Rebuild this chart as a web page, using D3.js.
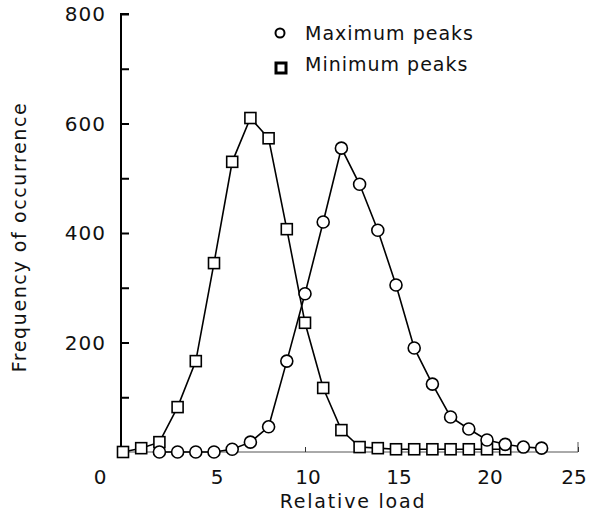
<!DOCTYPE html>
<html><head><meta charset="utf-8">
<script src="https://cdn.jsdelivr.net/npm/d3@7"></script>
<style>body{margin:0;background:#fff}svg{display:block}text{font-family:"DejaVu Sans",sans-serif;fill:#111}</style>
</head><body><svg id="c" width="591" height="520"></svg>
<script>
const maxX = [2,3,4,5,6,7,8,9,10,11,12,13,14,15,16,17,18,19,20,21,22,23];
const maxY = [0,0,0,0,5,18,46,166,289,420,555,489,405,305,190,124,64,42,22,14,9,7];
const minX = [0,1,2,3,4,5,6,7,8,9,10,11,12,13,14,15,16,17,18,19,20,21];
const minY = [0,7,18,82,166,345,530,610,573,407,236,117,40,9,7,5,5,5,5,5,5,5];
const xTicks = [0,5,10,15,20,25];
const yTicks = [0,200,400,600,800];
const yMinor = [100,300,500,700];
const xTitle = "Relative load";
const yTitle = "Frequency of occurrence";
const legend = ["Maximum peaks","Minimum peaks"];

const svg = d3.select("#c");
const x = d3.scaleLinear().domain([0,25]).range([123,578]);
const y = d3.scaleLinear().domain([0,800]).range([452,14]);

// y axis
const ya = svg.append("g").attr("transform","translate(121,0)")
  .call(d3.axisRight(y).tickValues(yTicks.concat(yMinor)).tickSize(8).tickFormat(""));
ya.select(".domain").attr("d",`M8,${y(800)}H0V${y(0)}`).attr("stroke","#000").attr("stroke-width",2);
ya.selectAll(".tick line").attr("stroke","#000").attr("stroke-width",2);
svg.append("g").selectAll("text").data(yTicks.filter(d=>d>0)).join("text")
  .attr("x",106).attr("y",d=>y(d)+7).attr("text-anchor","end")
  .style("font-size","20px").style("letter-spacing","1px").text(d=>d);

// x axis
const xa = svg.append("g").attr("transform",`translate(0,${y(0)})`)
  .call(d3.axisTop(x).tickValues(xTicks.slice(1)).tickSize(5).tickFormat(""));
xa.select(".domain").attr("d",`M${x(0)},0H${x(25)}V-10`).attr("stroke","#555").attr("stroke-width",1);
xa.selectAll(".tick line").attr("stroke","#333").attr("stroke-width",1);
svg.append("g").selectAll("text").data(xTicks).join("text")
  .attr("x",d=>d===0?100:(d===25?x(d)-4:x(d)+3)).attr("y",484).attr("text-anchor","middle")
  .style("font-size","20px").text(d=>d);

svg.append("text").attr("x",353).attr("y",508).attr("text-anchor","middle")
  .style("font-size","19px").style("letter-spacing","1.8px").text(xTitle);
svg.append("text").attr("transform","translate(26,237) rotate(-90)").attr("text-anchor","middle")
  .style("font-size","19px").style("letter-spacing","1.6px").text(yTitle);

const line = d3.line().x(d=>x(d[0])).y(d=>y(d[1]));
const maxD = maxX.map((v,i)=>[v,maxY[i]]);
const minD = minX.map((v,i)=>[v,minY[i]]);
svg.append("path").datum(minD).attr("d",line).attr("fill","none").attr("stroke","#000").attr("stroke-width",1.6);
svg.append("path").datum(maxD).attr("d",line).attr("fill","none").attr("stroke","#000").attr("stroke-width",1.6);
svg.append("g").selectAll("rect").data(minD).join("rect")
  .attr("x",d=>x(d[0])-5.5).attr("y",d=>y(d[1])-5.5).attr("width",11).attr("height",11)
  .attr("fill","#fff").attr("stroke","#000").attr("stroke-width",1.6);
svg.append("g").selectAll("circle").data(maxD).join("circle")
  .attr("cx",d=>x(d[0])).attr("cy",d=>y(d[1])).attr("r",6)
  .attr("fill","#fff").attr("stroke","#000").attr("stroke-width",1.6);

// legend
svg.append("circle").attr("cx",280).attr("cy",33).attr("r",4.5).attr("fill","#fff").attr("stroke","#000").attr("stroke-width",2);
svg.append("rect").attr("x",276).attr("y",63).attr("width",10).attr("height",10).attr("fill","#fff").attr("stroke","#000").attr("stroke-width",3);
svg.append("text").attr("x",305).attr("y",40).style("font-size","19px").style("letter-spacing","1px").text(legend[0]);
svg.append("text").attr("x",305).attr("y",71).style("font-size","19px").style("letter-spacing","1px").text(legend[1]);
</script></body></html>
